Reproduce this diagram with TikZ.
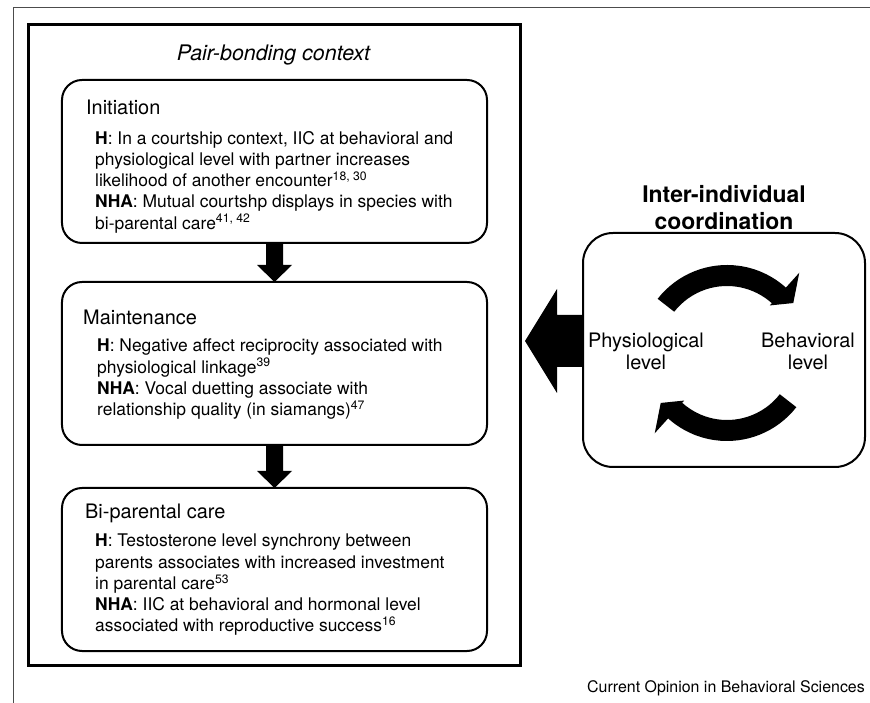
\documentclass[tikz,border=0pt]{standalone}
\usepackage{fontspec}
\setmainfont{TeX Gyre Heros}
\usetikzlibrary{calc, positioning}
\tikzset{
  stage/.style={draw, line width=2bp, rounded corners=20bp, minimum width=425bp, minimum height=163bp, inner sep=0pt, outer sep=0pt},
  stagehead/.style={anchor=west, inner sep=0pt, font=\fontsize{20}{24}\selectfont},
  stagetext/.style={anchor=north west, inner sep=0pt, align=left, font=\fontsize{17.5}{21.3}\selectfont},
  levelnode/.style={inner sep=0pt, align=center, font=\fontsize{20}{22}\selectfont}
}

\begin{document}
\begin{tikzpicture}[x=1bp, y=1bp]
\useasboundingbox (0,0) rectangle (870,703);
\draw[gray!60!black, line width=1bp] (13,0) -- (13,695) -- (870,695);

% pair-bonding side
\node[draw, line width=3bp, minimum width=491bp, minimum height=640bp, outer sep=0pt] (pair) at (274.5,358) {};
\node[inner sep=0pt, font=\fontsize{21.5}{25}\selectfont\itshape] (title) at (273.5,648) {Pair-bonding context};

\node[stage] (init) at (274.5,541.5) {};
\node[stage, below=39bp of init] (maint) {};
\node[stage, below=43bp of maint] (bip) {};

\node[stagehead] (inithead) at ($(init.north west)+(24,-27)$) {Initiation};
\node[stagetext] (inittext) at ($(init.north west)+(33,-51)$) {\textbf{H}: In a courtship context, IIC at behavioral and\\
physiological level with partner increases\\
likelihood of another encounter\textsuperscript{18, 30}\\
\textbf{NHA}: Mutual courtshp displays in species with\\
bi-parental care\textsuperscript{41, 42}};

\node[stagehead] (mainthead) at ($(maint.north west)+(21,-35)$) {Maintenance};
\node[stagetext] (mainttext) at ($(maint.north west)+(35,-57)$) {\textbf{H}: Negative affect reciprocity associated with\\
physiological linkage\textsuperscript{39}\\
\textbf{NHA}: Vocal duetting associate with\\
relationship quality (in siamangs)\textsuperscript{47}};

\node[stagehead] (biphead) at ($(bip.north west)+(23,-25)$) {Bi-parental care};
\node[stagetext] (biptext) at ($(bip.north west)+(33,-46)$) {\textbf{H}: Testosterone level synchrony between\\
parents associates with increased investment\\
in parental care\textsuperscript{53}\\
\textbf{NHA}: IIC at behavioral and hormonal level\\
associated with reproductive success\textsuperscript{16}};

\foreach \a/\b in {init/maint, maint/bip}
  \fill ($(\a.south)+(-8.5,0)$) -- ($(\b.north)+(-8.5,17)$) -- ($(\b.north)+(-17.5,17)$) -- (\b.north)
    -- ($(\b.north)+(17.5,17)$) -- ($(\b.north)+(8.5,17)$) -- ($(\a.south)+(8.5,0)$) -- cycle;

% coordination side
\node[draw, line width=2bp, rounded corners=30bp, minimum width=282bp, minimum height=234bp, outer sep=0pt] (iic) at (724,353) {};
\node[above=3bp of iic, inner sep=0pt, align=center, font=\fontsize{23}{27}\selectfont\bfseries] (iictitle) {Inter-individual\\coordination};
\node[levelnode] (physio) at (646,352) {Physiological\\level};
\node[levelnode] (behav) at (808,352) {Behavioral\\level};

\coordinate (cyc) at (727,350);
\foreach \s/\e/\t in {142/48/37, 322/228/217}
  \fill ($(cyc)+(\s:88)$) arc[start angle=\s, end angle=\e, radius=88] -- ($(cyc)+(\e:108)$)
    -- ($(cyc)+(\t:83)$) -- ($(cyc)+(\e:64)$) -- ($(cyc)+(\e:67)$)
    arc[start angle=\e, end angle=\s, radius=67] -- cycle;

\fill ($(iic.west)+(0,35)$) -- ($(iic.west)+(-26,35)$) -- ($(iic.west)+(-26,61)$)
  -- ($(pair.east |- iic.west)+(5,9)$) -- ($(iic.west)+(-26,-43)$) -- ($(iic.west)+(-26,-17)$)
  -- ($(iic.west)+(0,-17)$) -- cycle;

\node[anchor=east, inner sep=0pt, font=\fontsize{16}{19}\selectfont] (credit) at (865,15) {Current Opinion in Behavioral Sciences};
\end{tikzpicture}
\end{document}
